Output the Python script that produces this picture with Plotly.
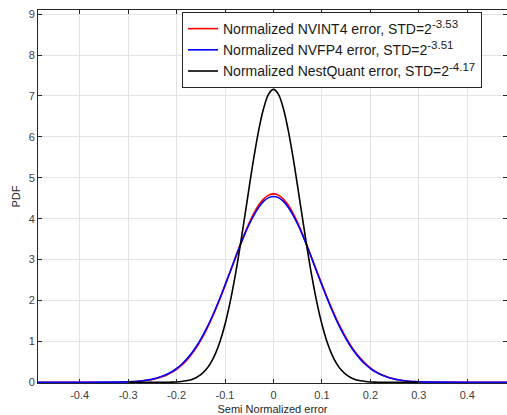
import plotly.graph_objects as go

x = [-0.49, -0.30, -0.29, -0.28, -0.27, -0.26, -0.25, -0.24, -0.23, -0.22, -0.21,
     -0.20, -0.19, -0.18, -0.17, -0.16, -0.15, -0.14, -0.13, -0.12, -0.11,
     -0.10, -0.09, -0.08, -0.07, -0.06, -0.05, -0.04, -0.03, -0.02, -0.01,
     0.00, 0.01, 0.02, 0.03, 0.04, 0.05, 0.06, 0.07, 0.08, 0.09,
     0.10, 0.11, 0.12, 0.13, 0.14, 0.15, 0.16, 0.17, 0.18, 0.19,
     0.20, 0.21, 0.22, 0.23, 0.24, 0.25, 0.26, 0.27, 0.28, 0.29, 0.30, 0.49]

nvint4 = [0, 0.011, 0.017, 0.025, 0.036, 0.051, 0.071, 0.099, 0.135, 0.183, 0.244,
          0.320, 0.415, 0.531, 0.671, 0.836, 1.028, 1.247, 1.493, 1.764, 2.056,
          2.365, 2.685, 3.007, 3.323, 3.624, 3.900, 4.141, 4.339, 4.486, 4.576,
          4.607, 4.576, 4.486, 4.339, 4.141, 3.900, 3.624, 3.323, 3.007, 2.700,
          2.395, 2.100, 1.815, 1.548, 1.305, 1.086, 0.892, 0.724, 0.580, 0.458,
          0.356, 0.274, 0.207, 0.154, 0.113, 0.082, 0.058, 0.040, 0.028, 0.019, 0.013, 0]

nvfp4 = [0, 0.013, 0.019, 0.028, 0.040, 0.057, 0.079, 0.108, 0.147, 0.197, 0.260,
         0.339, 0.437, 0.556, 0.697, 0.864, 1.056, 1.275, 1.518, 1.786, 2.073,
         2.376, 2.687, 3.000, 3.307, 3.598, 3.864, 4.096, 4.286, 4.428, 4.515,
         4.544, 4.515, 4.428, 4.286, 4.096, 3.864, 3.598, 3.307, 3.000, 2.687,
         2.376, 2.073, 1.786, 1.518, 1.275, 1.056, 0.864, 0.697, 0.556, 0.437,
         0.339, 0.260, 0.197, 0.147, 0.108, 0.079, 0.057, 0.040, 0.028, 0.019, 0.013, 0]

# NestQuant curve only spans -0.3 .. 0.3
x_nq = x[1:-1]
nestquant = [0, 0, 0, 0, 0, 0, 0, 0.001, 0.003, 0.006,
             0.011, 0.021, 0.038, 0.067, 0.114, 0.188, 0.301, 0.465, 0.697, 1.012,
             1.421, 1.932, 2.543, 3.241, 4.000, 4.779, 5.527, 6.190, 6.711, 7.045,
             7.160, 7.045, 6.711, 6.190, 5.527, 4.779, 4.000, 3.241, 2.543, 1.932,
             1.421, 1.012, 0.697, 0.465, 0.301, 0.188, 0.114, 0.067, 0.038, 0.021,
             0.011, 0.006, 0.003, 0.001, 0, 0, 0, 0, 0, 0, 0]

exps = ['-3.53', '-3.51', '-4.17']
labels = ['Normalized NVINT4 error, STD=2', 'Normalized NVFP4 error, STD=2',
          'Normalized NestQuant error, STD=2']
names = [f'{lab}<sup><span style="font-size:11.5px">{e}</span></sup>'
         for lab, e in zip(labels, exps)]

fig = go.Figure()
fig.add_trace(go.Scatter(x=x, y=nvint4, mode='lines', name=names[0],
                         line=dict(color='#ff0000', width=1.6, shape='spline')))
fig.add_trace(go.Scatter(x=x, y=nvfp4, mode='lines', name=names[1],
                         line=dict(color='#0000ff', width=1.6, shape='spline')))
fig.add_trace(go.Scatter(x=x_nq, y=nestquant, mode='lines', name=names[2],
                         line=dict(color='#000000', width=1.6, shape='spline')))

axis_common = dict(showgrid=True, gridcolor='#e3e3e3', gridwidth=1,
                   showline=True, linecolor='#262626', linewidth=1,
                   ticks='inside', ticklen=4, tickcolor='#262626',
                   zeroline=False, mirror='ticks', automargin=False,
                   tickfont=dict(size=11, color='#404040'))

fig.update_xaxes(range=[-0.486, 0.482], tickvals=[-0.4, -0.3, -0.2, -0.1, 0, 0.1, 0.2, 0.3, 0.4],
                 ticktext=['-0.4', '-0.3', '-0.2', '-0.1', '0', '0.1', '0.2', '0.3', '0.4'],
                 ticklabelstandoff=2,
                 title=dict(text='Semi Normalized error', font=dict(size=11, color='#262626')),
                 **axis_common)
fig.update_yaxes(range=[-0.015, 9.1], tickvals=list(range(10)), **axis_common)

# y title placed by hand (automargin is off)
fig.add_annotation(text='PDF', xref='paper', yref='paper', x=-0.049, y=0.5,
                   xanchor='center', yanchor='middle', textangle=-90, showarrow=False,
                   font=dict(size=11, color='#262626'))

fig.update_layout(
    width=507, height=415,
    margin=dict(l=38, r=0, t=10, b=32),
    paper_bgcolor='white', plot_bgcolor='white',
    font=dict(family='Liberation Sans, Arial, Helvetica, sans-serif', color='#262626'),
    legend=dict(x=0.307, y=0.9946, xanchor='left', yanchor='top',
                bgcolor='white', bordercolor='#262626', borderwidth=1,
                font=dict(size=14, color='#1a1a1a'), tracegroupgap=0),
    showlegend=True,
)

fig.write_html("out.html", config={'displayModeBar': False},
               post_script="document.body.style.margin='0';")
